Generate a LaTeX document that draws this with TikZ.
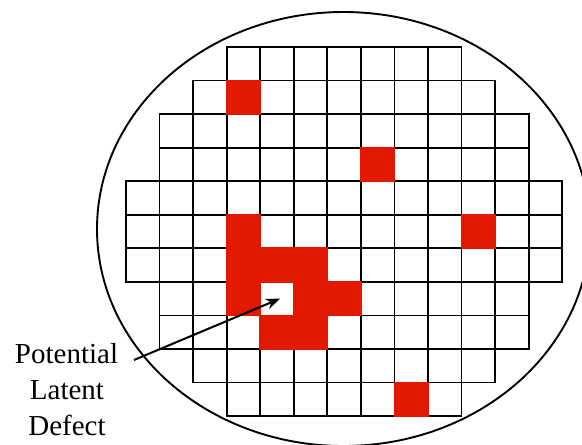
\documentclass[tikz,border=0pt]{standalone}
\usepackage{fontspec}
\setmainfont{Liberation Serif}
\newfontfamily\lblfont{Liberation Serif}
\usetikzlibrary{arrows.meta}
\definecolor{defectred}{RGB}{227,24,0}
\begin{document}
\begin{tikzpicture}[x=1pt,y=-1pt,
  cellbox/.style={draw=black,line width=1.8pt,fill=white},
  badcell/.style={fill=defectred,draw=defectred,line width=1.8pt},
  wafer/.style={draw=black,line width=1.9pt},
  lbl/.style={font=\lblfont\fontsize{29}{36}\selectfont,inner sep=0pt,anchor=base},
  pointer/.style={-{Stealth[length=14pt,width=11pt]},line width=2pt}]
\useasboundingbox (0,0) rectangle (582,445);
\begin{scope}
  \clip (0,0) rectangle (582,445);
  \draw[wafer] (343.5,229) ellipse [x radius=246.5, y radius=217];
\end{scope}
\def\cs{33.55}
% grid of dies: row/first column/last column
\foreach \r/\a/\b in {0/3/9,1/2/10,2/1/11,3/1/11,4/0/12,5/0/12,6/0/12,7/1/11,8/1/11,9/2/10,10/3/9} {
  \foreach \c in {\a,...,\b} {
    \draw[cellbox] ({126+\c*\cs},{47+\r*\cs}) rectangle ++(\cs,\cs);
  }
}
% defective dies: row/column
\foreach \r/\c in {1/3,3/7,5/3,5/10,6/3,6/4,6/5,7/3,7/5,7/6,8/4,8/5,10/8} {
  \draw[badcell] ({126+\c*\cs},{47+\r*\cs}) rectangle ++(\cs,\cs);
}
\coordinate (defect) at ({126+4.5*\cs+3},{47+7.5*\cs});
\node[lbl] (lblA) at (66.5,363) {Potential};
\node[lbl] (lblB) at (67,399) {Latent};
\node[lbl] (lblC) at (67,435) {Defect};
\coordinate (tail) at (134,360);
\draw[pointer] (tail) -- (defect);
\end{tikzpicture}
\end{document}
